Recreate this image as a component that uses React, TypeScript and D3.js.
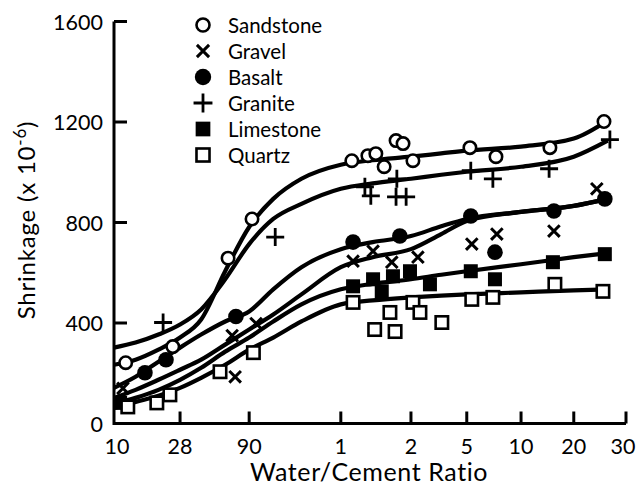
import React from "react";
import * as d3 from "d3";

// Age axis: days (10, 28, 90) then years (1 … 30), drawn on a stretched log scale
const tickDays = [10, 28, 90, 365, 730, 1825, 3650, 7300, 10950];
const tickLabels = ["10", "28", "90", "1", "2", "5", "10", "20", "30"];
const tickFrac = [0, 0.129, 0.264, 0.443, 0.58, 0.689, 0.795, 0.898, 1];

const yTicks = [0, 400, 800, 1200, 1600];

// Fitted curve samples (days)
const curveDays = [10, 14, 20, 28, 40, 60, 90, 130, 200, 365, 500, 730, 1200, 1825, 3650, 7300, 9500];
const sandstoneFit = [234, 254, 294, 342, 414, 606, 782, 894, 974, 1030, 1048, 1062, 1075, 1086, 1102, 1134, 1206];
const graniteFit = [302, 322, 354, 394, 454, 574, 714, 814, 874, 934, 956, 974, 990, 1002, 1022, 1062, 1126];
const basaltFit = [142, 186, 246, 302, 354, 406, 446, 534, 622, 694, 722, 746, 785, 814, 842, 866, 894];
const gravelFit = [102, 134, 174, 214, 254, 314, 374, 434, 514, 622, 662, 694, 754, 806, 842, 866, 894];
const limestoneFit = [78, 102, 134, 174, 222, 286, 342, 406, 474, 534, 556, 574, 592, 606, 634, 662, 678];
const quartzFit = [62, 86, 110, 142, 182, 234, 294, 342, 406, 474, 490, 502, 509, 514, 522, 530, 534];

// Measured shrinkage points [days, value]
const sandstonePts = [[12, 242], [25, 306], [63, 658], [94, 814], [407, 1046], [477, 1066], [516, 1074], [560, 1022], [630, 1126], [675, 1114], [754, 1046], [1900, 1098], [2650, 1062], [5335, 1098], [9230, 1202]];
const gravelPts = [[11.5, 140], [67.5, 350], [100, 398], [71, 186], [412, 646], [502, 686], [604, 642], [818, 662], [1946, 714], [2680, 754], [5622, 766], [8730, 934]];
const basaltPts = [[16.2, 202], [22.5, 254], [72, 426], [412, 722], [654, 746], [1921, 826], [2616, 682], [5622, 846], [9290, 894]];
const granitePts = [[21.5, 402], [134, 742], [463, 942], [491, 906], [635, 974], [630, 902], [696, 902], [1921, 1006], [2547, 974], [5278, 1014], [9663, 1130]];
const limestonePts = [[11, 82], [412, 546], [502, 574], [547, 526], [611, 586], [723, 606], [997, 554], [1921, 606], [2616, 574], [5549, 642], [9290, 674]];
const quartzPts = [[12.4, 66], [19.5, 82], [23.9, 114], [55, 206], [96, 282], [412, 482], [510, 374], [624, 366], [593, 442], [754, 482], [846, 442], [1212, 402], [1946, 494], [2547, 502], [5695, 554], [9155, 526]];

const materials = ["Sandstone", "Gravel", "Basalt", "Granite", "Limestone", "Quartz"];
const markerTypes = ["openCircle", "cross", "dot", "plus", "filledSquare", "openSquare"];
const fits = [sandstoneFit, gravelFit, basaltFit, graniteFit, limestoneFit, quartzFit];
const points = [sandstonePts, gravelPts, basaltPts, granitePts, limestonePts, quartzPts];

const W = 639;
const H = 491;
const left = 114;
const right = 626;
const top = 21.5;
const bottom = 423.5;
const FONT = "Lato, 'DejaVu Sans', sans-serif";

function Marker({ type, x, y, legend = false }: { type: string; x: number; y: number; legend?: boolean }) {
  const s = legend ? 1.05 : 1;
  switch (type) {
    case "openCircle":
      return <circle cx={x} cy={y} r={6.2 * s} fill="white" stroke="black" strokeWidth={2.6} />;
    case "dot":
      return <circle cx={x} cy={y} r={7.8 * s} fill="black" />;
    case "cross": {
      const h = 5.8 * s;
      return (
        <path d={`M${x - h},${y - h}L${x + h},${y + h}M${x - h},${y + h}L${x + h},${y - h}`} stroke="black" strokeWidth={3} fill="none" />
      );
    }
    case "plus": {
      const h = 9 * s;
      return <path d={`M${x - h},${y}L${x + h},${y}M${x},${y - h}L${x},${y + h}`} stroke="black" strokeWidth={2.8} fill="none" />;
    }
    case "filledSquare": {
      const h = 7 * s;
      return <rect x={x - h} y={y - h} width={2 * h} height={2 * h} fill="black" />;
    }
    case "openSquare": {
      const h = 6.2 * s;
      return <rect x={x - h} y={y - h} width={2 * h} height={2 * h} fill="white" stroke="black" strokeWidth={2.6} />;
    }
    default:
      return null;
  }
}

export default function App() {
  const x = d3
    .scaleLinear()
    .domain(tickDays.map((d) => Math.log(d)))
    .range(tickFrac.map((f) => left + f * (right - left)));
  const xd = (d: number) => x(Math.log(d));
  const y = d3.scaleLinear().domain([0, 1600]).range([bottom, top]);

  const line = d3
    .line<number>()
    .x((_, i) => xd(curveDays[i]))
    .y((v) => y(v))
    .curve(d3.curveMonotoneX);

  const legendRows = [25, 51, 77, 103, 129, 155];

  return (
    <svg width={W} height={H} style={{ position: "absolute", left: 0, top: 0, background: "white" }} fontFamily={FONT}>
      <rect width={W} height={H} fill="white" />

      {/* fitted curves */}
      {fits.map((f, i) => (
        <path key={materials[i]} d={line(f) || ""} fill="none" stroke="black" strokeWidth={4.2} strokeLinejoin="round" />
      ))}

      {/* data points */}
      {points.map((pts, i) =>
        pts.map((p, j) => <Marker key={`${i}-${j}`} type={markerTypes[i]} x={xd(p[0])} y={y(p[1])} />)
      )}

      {/* axes */}
      <g stroke="black" strokeWidth={3} fill="none">
        <path d={`M${left},${top}L${left},${bottom}L${right},${bottom}`} strokeLinejoin="miter" />
        {yTicks.slice(1).map((t) => (
          <path key={t} d={`M${left},${y(t)}L${left + 13},${y(t)}`} />
        ))}
        {tickDays.slice(1).map((d) => (
          <path key={d} d={`M${xd(d)},${bottom}L${xd(d)},${bottom - 12}`} />
        ))}
      </g>

      <g fontSize={21.5} fill="black">
        {yTicks.map((t) => (
          <text key={t} x={left - 11} y={y(t)} textAnchor="end" dominantBaseline="central">
            {t}
          </text>
        ))}
        {tickDays.map((d, i) => (
          <text key={d} x={xd(d) + (i === 0 ? 3 : i === tickDays.length - 1 ? -3 : 0)} y={bottom + 30} textAnchor="middle">
            {tickLabels[i]}
          </text>
        ))}
      </g>

      <text x={369} y={481} textAnchor="middle" fontSize={25} fill="black" letterSpacing={0.6}>
        Water/Cement Ratio
      </text>
      <text transform="translate(35,220) rotate(-90)" textAnchor="middle" fontSize={24} fill="black" letterSpacing={0.8}>
        Shrinkage (x 10
        <tspan dy={-9} fontSize={17}>-6</tspan>
        <tspan dy={9}>)</tspan>
      </text>

      {/* legend */}
      {materials.map((m, i) => (
        <g key={m}>
          <Marker type={markerTypes[i]} x={203} y={legendRows[i]} legend />
          <text x={228} y={legendRows[i]} dominantBaseline="central" fontSize={20.5} fill="black">
            {m}
          </text>
        </g>
      ))}
    </svg>
  );
}
